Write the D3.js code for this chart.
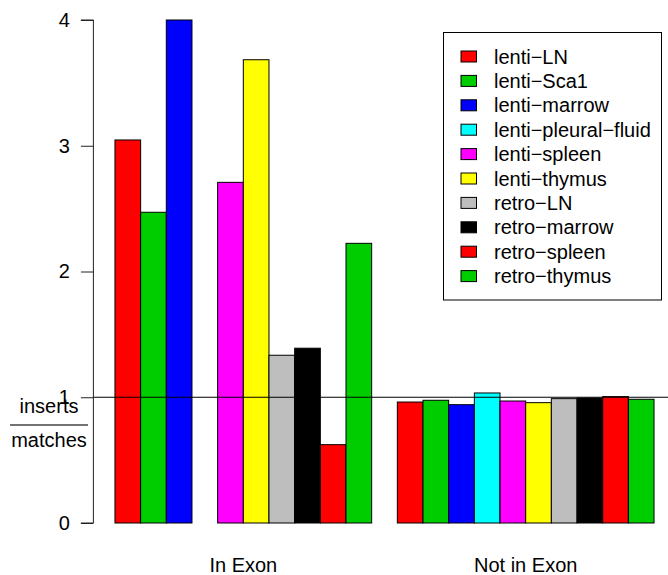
<!DOCTYPE html>
<html>
<head>
<meta charset="utf-8">
<script src="https://cdn.jsdelivr.net/npm/d3@7"></script>
<style>
  html, body { margin: 0; padding: 0; background: #fff; }
  svg { display: block; font-family: "Liberation Sans", Arial, Helvetica, sans-serif; }
</style>
</head>
<body>
<svg id="chart" width="668" height="575"></svg>
<script>
// ---- data ----
const groups = ["In Exon", "Not in Exon"];
const seriesNames = ["lenti\u2212LN", "lenti\u2212Sca1", "lenti\u2212marrow", "lenti\u2212pleural\u2212fluid",
  "lenti\u2212spleen", "lenti\u2212thymus", "retro\u2212LN", "retro\u2212marrow", "retro\u2212spleen", "retro\u2212thymus"];
const seriesColors = ["#FF0000", "#00CD00", "#0000FF", "#00FFFF", "#FF00FF", "#FFFF00", "#BEBEBE", "#000000", "#FF0000", "#00CD00"];
const inExon    = [3.046, 2.471, 4.0, 0, 2.709, 3.684, 1.334, 1.39, 0.623, 2.224];
const notInExon = [0.962, 0.976, 0.941, 1.034, 0.970, 0.957, 0.989, 0.994, 1.005, 0.984];
const yTicks = [0, 1, 2, 3, 4];
const refLine = 1;
const yLabelTop = "inserts";
const yLabelBottom = "matches";

const values = [inExon, notInExon];

const svg = d3.select("#chart");
const FS = 20;

// bar-unit scale (R barplot style: space before each group = 1 bar width)
const x = d3.scaleLinear().domain([0.16, 22.84]).range([93.4, 675.6]);
const y = d3.scaleLinear().domain([0, 4]).range([523, 20]);

// bars
const bars = [];
values.forEach((vals, g) => {
  vals.forEach((v, i) => {
    bars.push({ g, i, v, left: 1 + g * 11 + i });
  });
});

svg.append("g").selectAll("rect").data(bars).join("rect")
  .attr("x", d => x(d.left))
  .attr("width", d => x(d.left + 1) - x(d.left))
  .attr("y", d => y(d.v))
  .attr("height", d => y(0) - y(d.v))
  .attr("fill", d => seriesColors[d.i])
  .attr("stroke", "#000")
  .attr("stroke-width", 1);

// reference line (clipped to plot region)
svg.append("line")
  .attr("x1", x(0.16)).attr("x2", 668)
  .attr("y1", y(refLine)).attr("y2", y(refLine))
  .attr("stroke", "#000").attr("stroke-width", 1);

// y axis
const yAxis = d3.axisLeft(y).tickValues(yTicks).tickFormat(d3.format("d")).tickSize(12.5).tickPadding(11);
const ag = svg.append("g").attr("transform", `translate(${x(0.16)},0)`).call(yAxis);
ag.select(".domain").attr("d", `M-12.5,${y(4)}H0V${y(0)}H-12.5`).attr("stroke", "#222");
ag.selectAll(".tick line").attr("stroke", "#222");
ag.selectAll(".tick text").attr("font-size", FS).attr("fill", "#000")
  .attr("font-family", "Liberation Sans, Arial, sans-serif");
ag.attr("font-size", FS);

// y label as fraction
svg.append("text").attr("x", 49).attr("y", 412.5).attr("text-anchor", "middle")
  .attr("font-size", FS).text(yLabelTop);
svg.append("line").attr("x1", 10).attr("x2", 88).attr("y1", 425).attr("y2", 425)
  .attr("stroke", "#444").attr("stroke-width", 1.3);
svg.append("text").attr("x", 49).attr("y", 446.5).attr("text-anchor", "middle")
  .attr("font-size", FS).text(yLabelBottom);

// group labels
svg.append("g").selectAll("text").data(groups).join("text")
  .attr("x", (d, g) => x(1 + g * 11 + 5))
  .attr("y", 571.5)
  .attr("text-anchor", "middle")
  .attr("font-size", FS)
  .text(d => d);

// legend
const lg = svg.append("g");
lg.append("rect").attr("x", 443.5).attr("y", 32.5).attr("width", 218).attr("height", 267.5)
  .attr("fill", "#fff").attr("stroke", "#000").attr("stroke-width", 1);
const rowY = i => 56.5 + i * 24.4;
lg.selectAll("rect.key").data(seriesNames).join("rect").attr("class", "key")
  .attr("x", 461).attr("y", (d, i) => rowY(i) - 5.5)
  .attr("width", 15.5).attr("height", 11)
  .attr("fill", (d, i) => seriesColors[i])
  .attr("stroke", "#000").attr("stroke-width", 1);
lg.selectAll("text").data(seriesNames).join("text")
  .attr("x", 494).attr("y", (d, i) => rowY(i)).attr("dy", "0.35em")
  .attr("font-size", FS)
  .text(d => d);
</script>
</body>
</html>
